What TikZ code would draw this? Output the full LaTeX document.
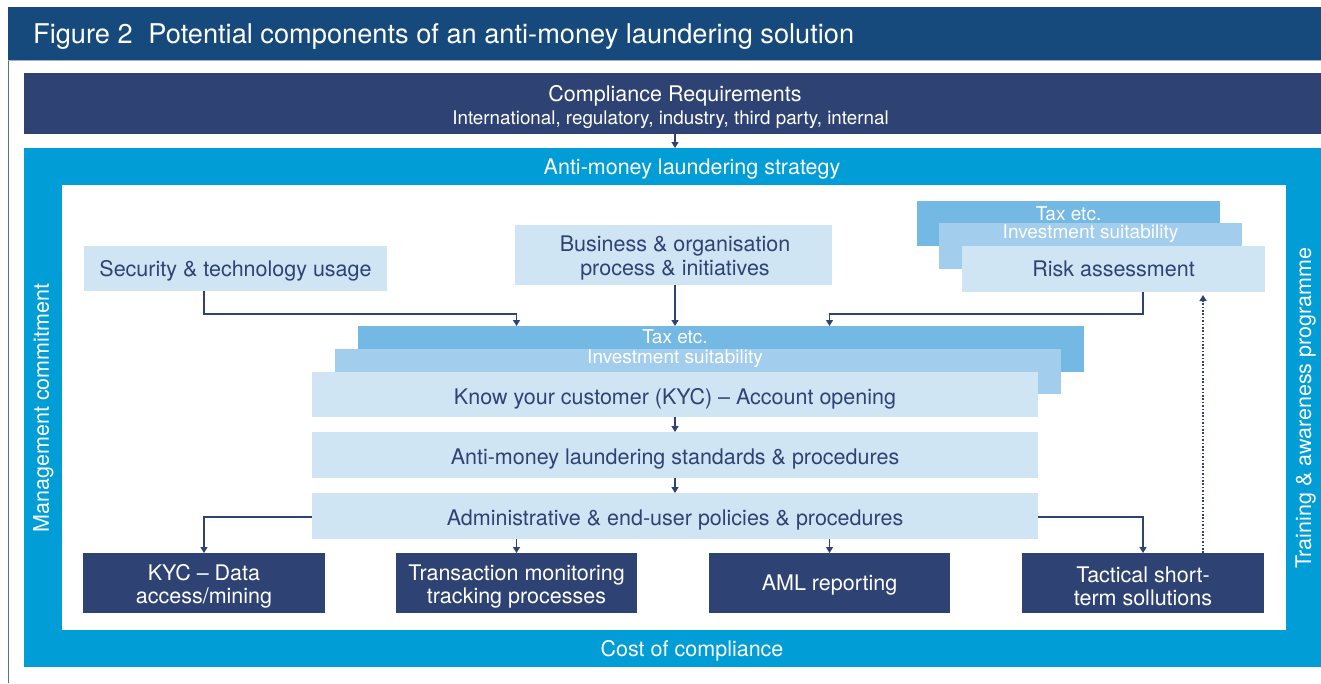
\documentclass[tikz,border=0pt]{standalone}
\usepackage{fontspec}
\setmainfont{TeX Gyre Heros}
\usetikzlibrary{arrows.meta,calc}

\definecolor{headblue}{RGB}{23,74,124}
\definecolor{navy}{RGB}{46,67,116}
\definecolor{cyanband}{RGB}{0,157,214}
\definecolor{paleblue}{RGB}{207,229,243}
\definecolor{midblue}{RGB}{162,205,236}
\definecolor{skyblue}{RGB}{116,185,227}
\definecolor{framegrey}{RGB}{95,110,140}

\newcommand{\mainsize}{\fontsize{21.5}{25}\selectfont}
\newcommand{\smallsize}{\fontsize{19}{21}\selectfont}

\tikzset{
  box/.style={inner sep=0pt, outer sep=0pt, draw=none},
  palebox/.style={box, fill=paleblue},
  darkbox/.style={box, fill=navy},
  lbl/.style={inner sep=0pt, text=navy, font=\mainsize, align=center, yshift=-2.5pt},
  wlbl/.style={inner sep=0pt, text=white, font=\mainsize, align=center, yshift=-2.5pt},
  sidelbl/.style={inner sep=0pt, text=white, font=\mainsize, rotate=90},
  slbl/.style={inner sep=0pt, text=white, font=\smallsize, yshift=-2pt},
  conn/.style={draw=navy, line width=1.3pt, -{Triangle[width=7pt,length=6pt]}},
  dotconn/.style={draw=navy, line width=1.4pt, dash pattern=on 1.6pt off 1.8pt,
    -{Triangle[width=7pt,length=6pt]}},
}

\begin{document}
\begin{tikzpicture}[x=1pt, y=-1pt]
\useasboundingbox (0,0) rectangle (1321,683);
\fill[white] (0,0) rectangle (1321,683);

% outer frame and title band
\draw[framegrey, line width=1pt] (8.5,60) -- (8.5,683);
\node[box, fill=headblue, minimum width=1313pt, minimum height=53pt] (header) at (664.5,33.5) {};
\draw[framegrey!55, line width=1pt] (8,60.5) -- (1321,60.5);
\node[inner sep=0pt, anchor=base west, text=white, font=\fontsize{27.2}{30}\selectfont] (title) at (33,43)
  {Figure 2\hspace{0.3em} Potential components of an anti-money laundering solution};

% compliance requirements band
\node[darkbox, minimum width=1297pt, minimum height=61pt] (compl) at (672.5,103.5) {};
\node[wlbl] (complA) at (675,93) {Compliance Requirements};
\node[slbl, font=\fontsize{18.8}{21}\selectfont] (complB) at (670.5,118)
  {International, regulatory, industry, third party, internal};

% strategy frame
\node[box, fill=cyanband, minimum width=1297pt, minimum height=519pt] (strat) at (672.5,407.5) {};
\node[box, fill=white, minimum width=1224pt, minimum height=445pt] (inner) at (674,407.5) {};
\node[wlbl] (stratlbl) at (692,167) {Anti-money laundering strategy};
\node[wlbl] (costlbl) at (692,648) {Cost of compliance};
\node[sidelbl] (mgmt) at (43.5,408) {Management commitment};
\node[sidelbl] (train) at (1305.5,408) {Training \& awareness programme};
\coordinate (stratTop) at (675,148);

% upper inputs
\node[palebox, minimum width=303pt, minimum height=45pt] (sec) at (235.5,268.5) {};
\node[lbl] at (sec) {Security \& technology usage};
\node[palebox, minimum width=317pt, minimum height=60pt] (bus) at (673.5,255) {};
\node[lbl] at (675,255.5) {Business \& organisation\\[-1.5pt]process \& initiatives};

% risk assessment stack
\node[box, fill=skyblue, minimum width=303pt, minimum height=45pt] (rtax) at (1068.5,223.5) {};
\node[slbl] at (1068.5,211.5) {Tax etc.};
\node[box, fill=midblue, minimum width=303pt, minimum height=46pt] (rinv) at (1090.5,246) {};
\node[slbl] at (1090.5,232) {Investment suitability};
\node[palebox, minimum width=303pt, minimum height=46pt] (risk) at (1113.5,269) {};
\node[lbl] at (1113.5,266) {Risk assessment};

% KYC stack and procedures
\node[box, fill=skyblue, minimum width=726pt, minimum height=46pt] (mtax) at (721,349) {};
\node[slbl] at (675,334.5) {Tax etc.};
\node[box, fill=midblue, minimum width=726pt, minimum height=45pt] (minv) at (698,371.5) {};
\node[slbl] at (675,357) {Investment suitability};
\node[palebox, minimum width=726pt, minimum height=45pt] (kyc) at (675,394.5) {};
\node[lbl] at (675,396) {Know your customer (KYC) -- Account opening};
\node[palebox, minimum width=726pt, minimum height=46pt] (std) at (675,455) {};
\node[lbl] at (675,456) {Anti-money laundering standards \& procedures};
\node[palebox, minimum width=726pt, minimum height=46pt] (adm) at (675,516) {};
\node[lbl] at (675,517) {Administrative \& end-user policies \& procedures};

% outcome boxes
\node[darkbox, minimum width=242pt, minimum height=60pt] (b1) at (204,583) {};
\node[wlbl] at (204,584) {KYC -- Data\\[-1.5pt]access/mining};
\node[darkbox, minimum width=241pt, minimum height=60pt] (b2) at (516.5,583) {};
\node[wlbl] at (516.5,584) {Transaction monitoring\\[-1.5pt]tracking processes};
\node[darkbox, minimum width=241pt, minimum height=60pt] (b3) at (829.5,583) {};
\node[wlbl] at (829.5,582) {AML reporting};
\node[darkbox, minimum width=242pt, minimum height=60pt] (b4) at (1143,583) {};
\node[wlbl] at (1143,584) {Tactical short-\\[-1.5pt]term sollutions};

% connectors
\coordinate (elbow) at (0,314);
\coordinate (dotx) at (1203,0);
\draw[conn] (compl.south -| stratTop) -- (stratTop);
\draw[conn] (sec.south -| b1.north) |- (b2 |- elbow) -- (b2 |- mtax.north);
\draw[conn] (bus.south -| kyc.north) -- (kyc |- mtax.north);
\draw[conn] (risk.south -| b4.north) |- (b3 |- elbow) -- (b3 |- mtax.north);
\draw[conn] (kyc.south) -- (std.north);
\draw[conn] (std.south) -- (adm.north);
\draw[conn] ([yshift=-1pt]adm.west) -| (b1.north);
\draw[conn] (adm.south -| b2.north) -- (b2.north);
\draw[conn] (adm.south -| b3.north) -- (b3.north);
\draw[conn] ([yshift=-1pt]adm.east) -| (b4.north);
\draw[dotconn] (b4.north -| dotx) -- ([yshift=-3pt]risk.south -| dotx);
\end{tikzpicture}
\end{document}
